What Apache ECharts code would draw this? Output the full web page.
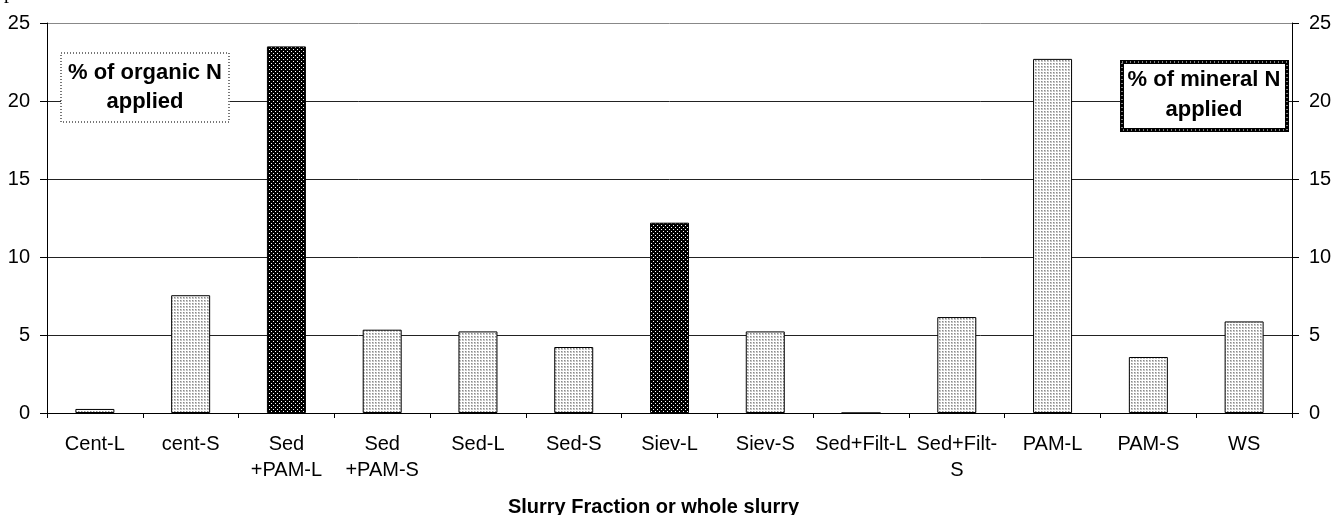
<!DOCTYPE html>
<html>
<head>
<meta charset="utf-8">
<script src="https://cdn.jsdelivr.net/npm/echarts@6/dist/echarts.min.js"></script>
<style>
html,body{margin:0;padding:0;background:#fff;}
#chart{width:1335px;height:515px;}
</style>
</head>
<body>
<div id="chart"></div>
<script>
// ---- data ----
const categories = ['Cent-L', 'cent-S', 'Sed\n+PAM-L', 'Sed\n+PAM-S', 'Sed-L', 'Sed-S', 'Siev-L', 'Siev-S', 'Sed+Filt-L', 'Sed+Filt-\nS', 'PAM-L', 'PAM-S', 'WS'];
const organicN = [0.26, 7.55, null, 5.34, 5.23, 4.23, null, 5.23, 0, 6.15, 22.7, 3.59, 5.87];
const mineralN = [null, null, 23.5, null, null, null, 12.2, null, null, null, null, null, null];
const yTicks = [0, 5, 10, 15, 20, 25];
const xTitle = 'Slurry Fraction or whole slurry';
const organicLabel = '% of organic N\napplied';
const mineralLabel = '% of mineral N\napplied';

// ---- patterns ----
function makePattern(size, bg, layers) {
  const c = document.createElement('canvas');
  c.width = size; c.height = size;
  const g = c.getContext('2d');
  g.fillStyle = bg; g.fillRect(0, 0, size, size);
  layers.forEach(l => { g.fillStyle = l[0]; l[1].forEach(p => g.fillRect(p[0], p[1], 1, 1)); });
  return c;
}
const lightPat = makePattern(3, '#c4c4c4', [
  ['#ffffff', [[2, 0], [2, 1], [2, 2], [0, 2], [1, 2]]],
  ['#8a8a8a', [[0, 0]]]
]);
const darkPat = makePattern(4, '#000000', [['#ffffff', [[1, 1], [3, 3]]]]);

const FONT = 'Liberation Sans, Arial, sans-serif';
const chart = echarts.init(document.getElementById('chart'), null, {renderer: 'canvas'});

const yAxisCommon = {
  type: 'value', min: 0, max: 25, interval: 5,
  axisLine: {show: true, lineStyle: {color: '#000', width: 1}},
  axisTick: {show: true, length: 7, lineStyle: {color: '#000'}},
  axisLabel: {color: '#000', fontSize: 20, fontFamily: FONT, margin: 17,
    formatter: v => yTicks.indexOf(v) >= 0 ? String(v) : ''}
};

chart.setOption({
  animation: false,
  backgroundColor: '#fff',
  grid: {left: 47, right: 43, top: 23, bottom: 102, containLabel: false, outerBoundsMode: 'none'},
  xAxis: {
    type: 'category', data: categories, boundaryGap: true,
    axisLine: {lineStyle: {color: '#000', width: 1}},
    axisTick: {show: true, length: 5, lineStyle: {color: '#000'}},
    axisLabel: {color: '#000', fontSize: 20, fontFamily: FONT, margin: 18, lineHeight: 26, interval: 0},
    name: xTitle, nameLocation: 'middle', nameGap: 84,
    nameTextStyle: {color: '#000', fontSize: 20, fontWeight: 'bold', fontFamily: FONT, padding: [0, 32, 0, 0]}
  },
  yAxis: [
    Object.assign({}, yAxisCommon, {
      position: 'left',
      splitLine: {show: true, lineStyle: {color: ['#000', '#222', '#222', '#222', '#222', '#888'], width: 1}}
    }),
    Object.assign({}, yAxisCommon, {position: 'right', splitLine: {show: false}})
  ],
  series: [
    {
      name: 'organic', type: 'bar', data: organicN, barWidth: 39, barGap: '-100%',
      itemStyle: {color: {image: lightPat, repeat: 'repeat'}, borderColor: '#000', borderWidth: 1}
    },
    {
      name: 'mineral', type: 'bar', data: mineralN, barWidth: 39, barGap: '-100%',
      itemStyle: {color: {image: darkPat, repeat: 'repeat'}, borderColor: '#000', borderWidth: 1}
    }
  ],
  graphic: [
    {type: 'text', left: 4, top: -17, style: {text: 'p', font: '20px Liberation Serif', fill: '#000'}},
    {type: 'rect', shape: {x: 61, y: 53, width: 168, height: 69}, z: 10,
      style: {fill: '#fff', stroke: '#777', lineWidth: 2, lineDash: [1, 2]}},
    {type: 'text', x: 145, y: 87, z: 11,
      style: {text: organicLabel, font: 'bold 22px ' + FONT, fill: '#000', textAlign: 'center', textVerticalAlign: 'middle', lineHeight: 29}},
    {type: 'rect', shape: {x: 1122, y: 62, width: 165, height: 68}, z: 10,
      style: {fill: '#fff', stroke: '#000', lineWidth: 4}},
    {type: 'rect', shape: {x: 1122, y: 62, width: 165, height: 68}, z: 10,
      style: {fill: null, stroke: '#fff', lineWidth: 1, lineDash: [1, 3]}},
    {type: 'text', x: 1204, y: 95, z: 11,
      style: {text: mineralLabel, font: 'bold 22px ' + FONT, fill: '#000', textAlign: 'center', textVerticalAlign: 'middle', lineHeight: 30}}
  ]
});
</script>
</body>
</html>
